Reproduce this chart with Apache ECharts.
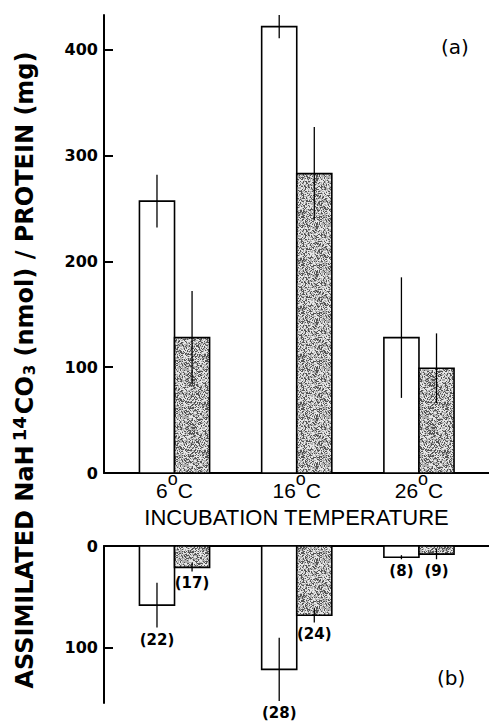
<!DOCTYPE html>
<html>
<head>
<meta charset="utf-8">
<script src="https://cdn.jsdelivr.net/npm/echarts@6/dist/echarts.min.js"></script>
<style>
  html, body { margin: 0; padding: 0; background: #fff; }
  #chart { width: 489px; height: 722px; }
</style>
</head>
<body>
<div id="chart"></div>
<script>
// incubation temperatures (deg C)
const categories = ['6', '16', '26'];

// (a) assimilated, light incubation (white) and dark incubation (shaded)
const topLight = [257, 422, 128];
const topLightErr = [25, 11, 57];
const topDark = [128, 283, 99];
const topDarkErr = [44, 44, 33];

// (b) lower panel, plotted downwards
const bottomLight = [58, 121, 11];
const bottomLightErr = [22, 31, 2];
const bottomDark = [21, 68, 8];
const bottomDarkErr = [4, 7, 5];
const bottomLightPct = ['(22)', '(28)', '(8)'];
const bottomDarkPct = ['(17)', '(24)', '(9)'];

const topTicks = [0, 100, 200, 300, 400];
const bottomTicks = [0, 100];

const FONT = 'Liberation Sans';
const WIDE = 'DejaVu Sans';
const BAR_W = 0.287;   // bar width in category units

// stippled grey fill like the printed screen tone
function makeStipple() {
  const size = 48;
  const c = document.createElement('canvas');
  c.width = size; c.height = size;
  const ctx = c.getContext('2d');
  const img = ctx.createImageData(size, size);
  for (let y = 0; y < size; y++) {
    for (let x = 0; x < size; x++) {
      let n = Math.imul(x, 374761393) + Math.imul(y, 668265263);
      n = Math.imul(n ^ (n >>> 13), 1274126177);
      n = (n ^ (n >>> 16)) >>> 0;
      const h = (n % 1000) / 1000;
      const g = h < 0.3 ? 85 : (h < 0.65 ? 175 : 230);
      const k = (y * size + x) * 4;
      img.data[k] = g; img.data[k + 1] = g; img.data[k + 2] = g; img.data[k + 3] = 255;
    }
  }
  ctx.putImageData(img, 0, 0);
  return { image: c.toDataURL(), repeat: 'repeat', imageWidth: size, imageHeight: size };
}
const stipple = makeStipple();

function buildData(vals, errs, labels) {
  return vals.map((v, i) => [i, v, errs[i], labels ? labels[i] : '']);
}

function barRenderer(side, fill, withLabel) {
  return function (params, api) {
    const i = api.value(0);
    const v = api.value(1);
    const e = api.value(2);
    const x0 = side === 'left' ? i - BAR_W : i;
    const x1 = side === 'left' ? i : i + BAR_W;
    const xm = (x0 + x1) / 2;
    const p0 = api.coord([x0, 0]);
    const p1 = api.coord([x1, v]);
    const pe1 = api.coord([xm, v - e]);
    const pe2 = api.coord([xm, v + e]);
    const children = [{
      type: 'rect',
      shape: { x: p0[0], y: Math.min(p0[1], p1[1]), width: p1[0] - p0[0], height: Math.abs(p1[1] - p0[1]) },
      style: { fill: fill, stroke: '#000', lineWidth: 1.6 }
    }, {
      type: 'line',
      shape: { x1: pe1[0], y1: pe1[1], x2: pe2[0], y2: pe2[1] },
      style: { stroke: '#000', lineWidth: 1.3 }
    }];
    if (withLabel) {
      children.push({
        type: 'text',
        style: {
          text: api.value(3), x: pe2[0], y: Math.max(pe1[1], pe2[1]) + 12,
          align: 'center', verticalAlign: 'middle',
          font: 'bold 15px "' + WIDE + '"', fill: '#000'
        }
      });
    }
    return { type: 'group', children: children };
  };
}

const xMin = -0.577, xMax = 2.573;
const axisLineStyle = { color: '#000', width: 2 };

const chart = echarts.init(document.getElementById('chart'), null, { renderer: 'svg' });
chart.setOption({
  animation: false,
  backgroundColor: '#fff',
  textStyle: { fontFamily: FONT },
  title: [
    { text: '(a)', left: 441, top: 37, padding: 0, textStyle: { fontSize: 20, fontWeight: 'normal', color: '#000', fontFamily: WIDE } },
    { text: '(b)', left: 437, top: 668, padding: 0, textStyle: { fontSize: 20, fontWeight: 'normal', color: '#000', fontFamily: WIDE } }
  ],
  grid: [
    { left: 104, right: 0, top: 15, height: 458 },
    { left: 104, right: 0, top: 546, height: 157 }
  ],
  xAxis: [{
    type: 'value', gridIndex: 0, min: xMin, max: xMax,
    axisLine: { show: true, onZero: false, lineStyle: axisLineStyle },
    axisTick: { show: false },
    splitLine: { show: false },
    axisLabel: {
      customValues: [0, 1, 2],
      margin: 7,
      formatter: v => '{n|' + categories[Math.round(v)] + '}{s|o}{n|C}',
      rich: {
        n: { fontSize: 21, color: '#000', fontFamily: FONT, lineHeight: 21 },
        s: { fontSize: 18, color: '#000', fontFamily: FONT, lineHeight: 1, padding: [0, 0, 24, 0] }
      }
    },
    name: 'INCUBATION TEMPERATURE',
    nameLocation: 'middle',
    nameGap: 37,
    nameMoveOverlap: false,
    nameTextStyle: { fontSize: 22, lineHeight: 14, color: '#000', fontFamily: FONT, verticalAlign: 'top' }
  }, {
    type: 'value', gridIndex: 1, position: 'top', min: xMin, max: xMax,
    axisLine: { show: true, onZero: false, lineStyle: axisLineStyle },
    axisTick: { show: false },
    axisLabel: { show: false },
    splitLine: { show: false }
  }],
  yAxis: [{
    type: 'value', gridIndex: 0, min: 0, max: 433,
    axisLine: { show: true, onZero: false, lineStyle: axisLineStyle },
    axisTick: { show: true, inside: true, length: 9, customValues: topTicks, lineStyle: { color: '#000', width: 2 } },
    axisLabel: { customValues: topTicks, margin: 6, fontSize: 16, fontWeight: 'bold', color: '#000', fontFamily: WIDE },
    splitLine: { show: false }
  }, {
    type: 'value', gridIndex: 1, min: 0, max: 154, inverse: true,
    axisLine: { show: true, onZero: false, lineStyle: axisLineStyle },
    axisTick: { show: true, inside: true, length: 9, customValues: bottomTicks, lineStyle: { color: '#000', width: 2 } },
    axisLabel: { customValues: bottomTicks, margin: 6, fontSize: 16, fontWeight: 'bold', color: '#000', fontFamily: WIDE },
    splitLine: { show: false }
  }],
  graphic: [{
    type: 'text',
    x: 25, y: 370,
    rotation: Math.PI / 2,
    style: {
      text: '{t|ASSIMILATED NaH}{sup|14}{t|CO}{sub|3}{t| (nmol) / PROTEIN (mg)}',
      align: 'center', verticalAlign: 'middle',
      rich: {
        t: { fontSize: 24, fontWeight: 'bold', fontFamily: WIDE, fill: '#000', lineHeight: 26 },
        sup: { fontSize: 18, fontWeight: 'bold', fontFamily: WIDE, fill: '#000', lineHeight: 18, padding: [0, 2, 12, 4] },
        sub: { fontSize: 15, fontWeight: 'bold', fontFamily: WIDE, fill: '#000', lineHeight: 16, padding: [10, 0, 0, 1] }
      }
    }
  }],
  series: [
    { type: 'custom', name: 'light', xAxisIndex: 0, yAxisIndex: 0, clip: false,
      encode: { x: 0, y: 1 }, data: buildData(topLight, topLightErr), renderItem: barRenderer('left', '#fff', false) },
    { type: 'custom', name: 'dark', xAxisIndex: 0, yAxisIndex: 0, clip: false,
      encode: { x: 0, y: 1 }, data: buildData(topDark, topDarkErr), renderItem: barRenderer('right', stipple, false) },
    { type: 'custom', name: 'light b', xAxisIndex: 1, yAxisIndex: 1, clip: false,
      encode: { x: 0, y: 1 }, data: buildData(bottomLight, bottomLightErr, bottomLightPct), renderItem: barRenderer('left', '#fff', true) },
    { type: 'custom', name: 'dark b', xAxisIndex: 1, yAxisIndex: 1, clip: false,
      encode: { x: 0, y: 1 }, data: buildData(bottomDark, bottomDarkErr, bottomDarkPct), renderItem: barRenderer('right', stipple, true) }
  ]
});
</script>
</body>
</html>
